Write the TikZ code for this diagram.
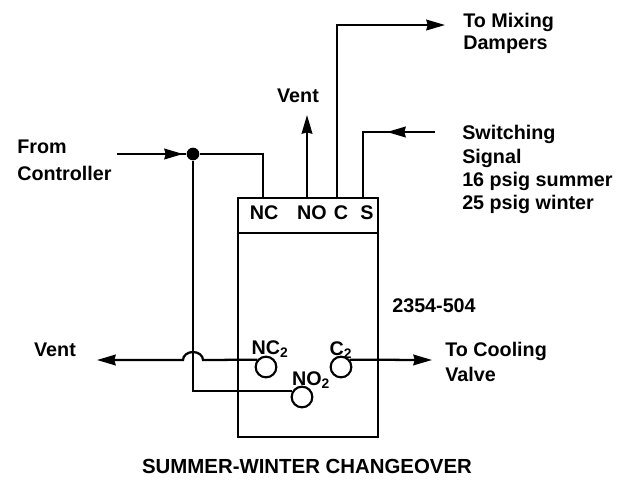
\documentclass[tikz,border=0pt]{standalone}
\usepackage{fontspec}
\setmainfont{Liberation Sans}
\usetikzlibrary{arrows.meta,decorations.markings}

\tikzset{
  pipe/.style={line width=1.7pt},
  flow/.style={pipe,-{Stealth[length=14pt,width=8pt,inset=1pt]}},
  midflow/.style={pipe,postaction={decorate},
    decoration={markings,mark=at position #1 with {\arrow{Stealth[length=14pt,width=8pt,inset=1pt]}}}},
  port/.style={circle,draw,line width=1.6pt,minimum size=15.5pt,inner sep=0pt},
  lbl/.style={font=\bfseries\fontsize{14.8}{17.6}\selectfont,inner sep=0pt},
}

\begin{document}
\begin{tikzpicture}[x=0.75pt,y=-0.75pt]
\useasboundingbox (0,0) rectangle (620,480);
\draw[line width=1.4pt] (238,198) rectangle (378,437);
\draw[line width=1.4pt] (238,233) -- (378,233);
\foreach \n/\x in {NC/264,NO/312,C/341,S/367}
    \node[lbl] (h\n) at (\x,213) {\n};
\coordinate (nc) at (263,198);
\coordinate (no) at (307,198);
\coordinate (c) at (337,198);
\coordinate (s) at (363,198);
\coordinate (fromc) at (117,154);
\coordinate (ventup) at (307,115);
\coordinate (mix) at (445,25);
\coordinate (sig) at (435,132);
\coordinate (ventl) at (97,360);
\coordinate (cool) at (432,360);
\node[circle,fill,inner sep=0pt,minimum size=9.5pt] (dot) at (193,154) {};
\node[port] (nctwo) at (266,367) {};
\node[port] (notwo) at (302,397) {};
\node[port] (ctwo) at (341,367) {};
\node[lbl,anchor=base] (nctwolbl) at (270,354) {NC\textsubscript{2}};
\node[lbl,anchor=base] (notwolbl) at (311,385) {NO\textsubscript{2}};
\node[lbl,anchor=base] (ctwolbl) at (341,355) {C\textsubscript{2}};
\draw[midflow=49.5pt] (fromc) -- (dot);
\draw[pipe] (dot) -| (nc);
\draw[pipe] (dot) |- (notwo.150);
\draw[flow] (no) -- (ventup);
\draw[flow] (c) |- (mix);
\draw[midflow=36pt] (sig) -| (s);
\draw[flow] (nctwo.140) -- (203,360) arc[start angle=0,end angle=180,x radius=7.5pt,y radius=6pt] -- (ventl);
\draw[flow] (ctwo.40) -- (cool);
\node[lbl,anchor=north west,align=left] (from) at (17,140) {From\\[2.4pt]Controller};
\node[lbl] (venttop) at (298,96) {Vent};
\node[lbl] (ventleft) at (55,350) {Vent};
\node[lbl,anchor=north west,align=left] (mixing) at (463,13) {To Mixing\\[-1pt]Dampers};
\node[lbl,anchor=north west,align=left] (switch) at (462,125) {Switching\\Signal\\16 psig summer\\25 psig winter};
\node[lbl] (part) at (434,306) {2354-504};
\node[lbl,anchor=north west,align=left] (cooling) at (445,342) {To Cooling\\[1.2pt]Valve};
\node[font=\bfseries\fontsize{15.3}{18}\selectfont] (title) at (307,466) {SUMMER-WINTER CHANGEOVER};
\end{tikzpicture}
\end{document}
